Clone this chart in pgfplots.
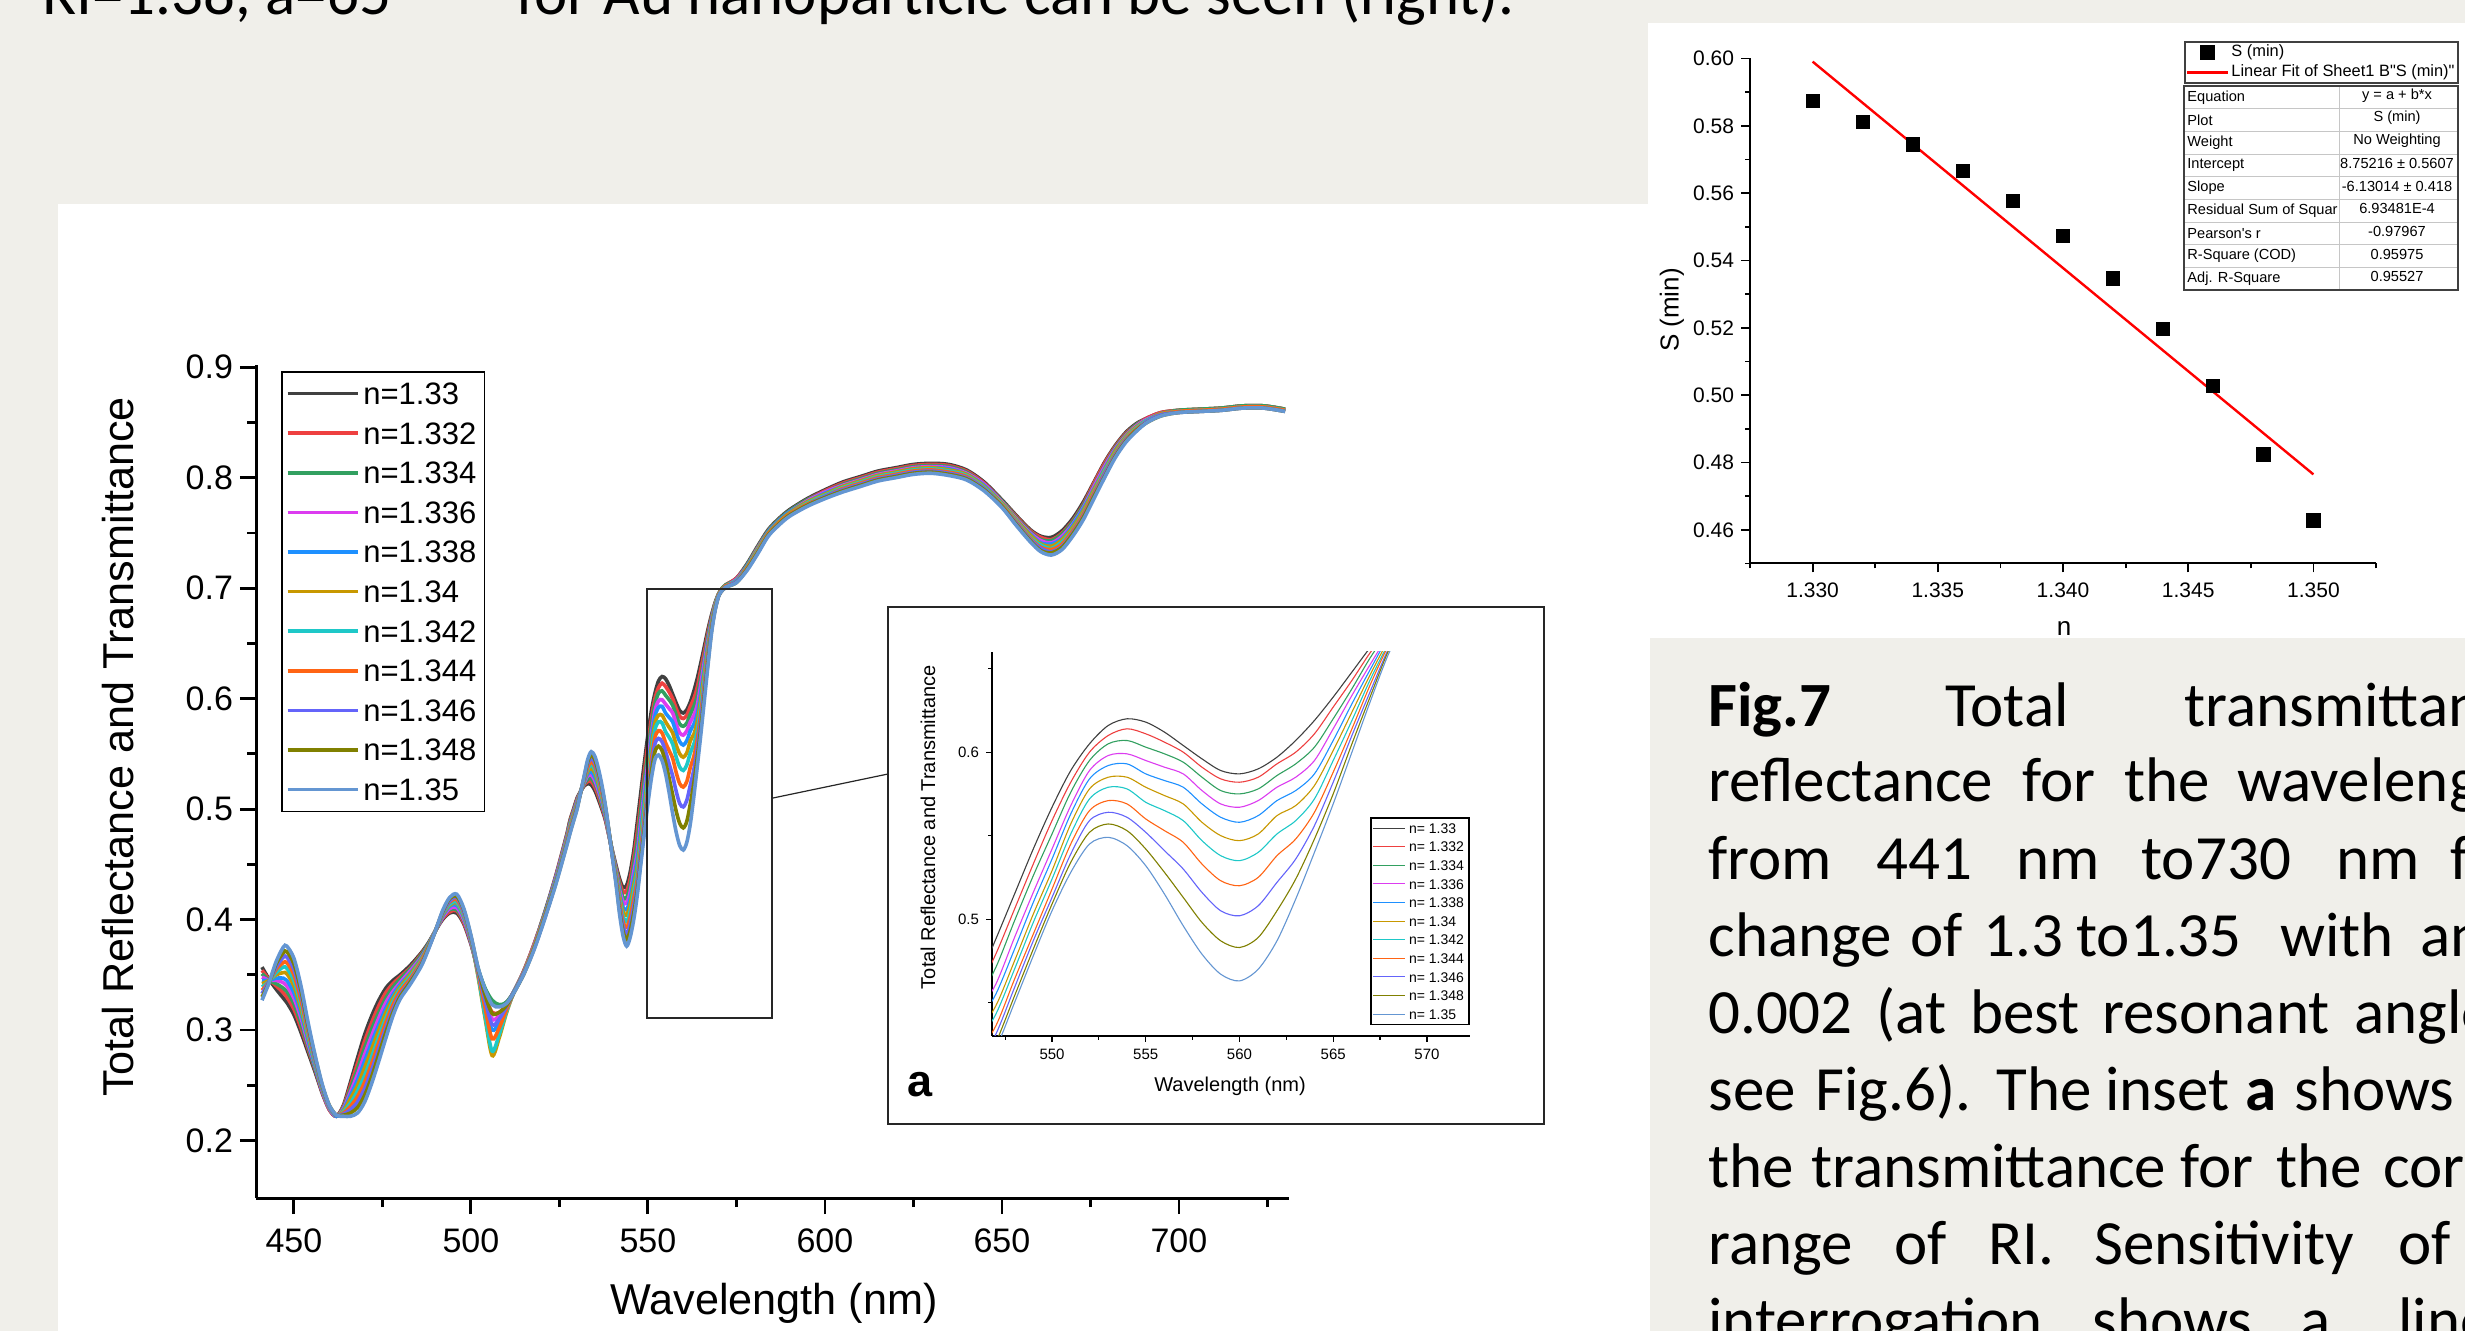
\documentclass[border=0pt]{standalone}
\usepackage{fontspec}
\setmainfont{Liberation Sans}
\newfontfamily\calibri{Carlito}
\usepackage{pgfplots}
\usepackage{pgfplotstable}
\pgfplotsset{compat=1.18}

\definecolor{bggrey}{RGB}{240,239,234}
\definecolor{c0}{RGB}{64,64,64}
\definecolor{c1}{RGB}{238,64,64}
\definecolor{c2}{RGB}{50,160,96}
\definecolor{c3}{RGB}{220,60,240}
\definecolor{c4}{RGB}{30,144,255}
\definecolor{c5}{RGB}{200,152,0}
\definecolor{c6}{RGB}{30,200,200}
\definecolor{c7}{RGB}{255,100,20}
\definecolor{c8}{RGB}{100,100,250}
\definecolor{c9}{RGB}{128,128,0}
\definecolor{c10}{RGB}{100,150,210}

\pgfplotsset{
  marklegend/.style={legend image code/.code={\draw[##1] plot coordinates {(10pt,0pt)}; \path (0pt,0pt) (20.5pt,0pt);}},
  fitlegend/.style={legend image code/.code={\draw[##1] (0pt,0pt) -- (20.5pt,0pt);}},
}

% total reflectance + transmittance, one column per refractive index
\pgfplotstableread{
L c0 c1 c2 c3 c4 c5 c6 c7 c8 c9 c10
441 0.357 0.354 0.351 0.348 0.345 0.342 0.339 0.336 0.333 0.330 0.327
443 0.346 0.346 0.345 0.345 0.345 0.345 0.344 0.344 0.344 0.343 0.343
445 0.337 0.340 0.342 0.345 0.347 0.350 0.352 0.355 0.357 0.360 0.362
447 0.329 0.334 0.338 0.343 0.347 0.352 0.357 0.361 0.366 0.370 0.375
448 0.325 0.330 0.335 0.340 0.345 0.351 0.356 0.361 0.366 0.371 0.376
450 0.314 0.319 0.324 0.329 0.334 0.340 0.345 0.350 0.355 0.360 0.365
452 0.298 0.302 0.306 0.311 0.315 0.319 0.323 0.327 0.332 0.336 0.340
454 0.280 0.283 0.285 0.288 0.291 0.294 0.296 0.299 0.302 0.304 0.307
456 0.262 0.264 0.265 0.267 0.268 0.270 0.271 0.273 0.274 0.276 0.277
458 0.243 0.244 0.245 0.245 0.246 0.247 0.248 0.249 0.249 0.250 0.251
460 0.228 0.228 0.229 0.229 0.230 0.230 0.230 0.231 0.231 0.232 0.232
462 0.222 0.222 0.222 0.222 0.222 0.223 0.223 0.223 0.223 0.223 0.223
464 0.232 0.231 0.230 0.229 0.228 0.227 0.226 0.225 0.224 0.223 0.222
466 0.253 0.250 0.247 0.244 0.241 0.238 0.234 0.231 0.228 0.225 0.222
468 0.275 0.270 0.265 0.260 0.255 0.250 0.245 0.240 0.235 0.230 0.225
470 0.296 0.290 0.284 0.278 0.272 0.266 0.259 0.253 0.247 0.241 0.235
472 0.313 0.307 0.301 0.295 0.289 0.283 0.276 0.270 0.264 0.258 0.252
474 0.327 0.322 0.316 0.311 0.305 0.300 0.294 0.289 0.283 0.278 0.272
476 0.338 0.334 0.329 0.325 0.320 0.316 0.311 0.307 0.302 0.298 0.293
478 0.345 0.342 0.339 0.335 0.332 0.329 0.326 0.323 0.319 0.316 0.313
480 0.350 0.348 0.346 0.343 0.341 0.339 0.337 0.335 0.332 0.330 0.328
483 0.359 0.357 0.356 0.354 0.352 0.351 0.349 0.347 0.345 0.344 0.342
486 0.370 0.369 0.368 0.366 0.365 0.364 0.363 0.362 0.360 0.359 0.358
488 0.379 0.378 0.378 0.377 0.377 0.376 0.375 0.375 0.374 0.374 0.373
490 0.390 0.390 0.390 0.390 0.390 0.390 0.390 0.390 0.390 0.390 0.390
492 0.400 0.401 0.402 0.402 0.403 0.404 0.405 0.406 0.406 0.407 0.408
494 0.406 0.407 0.409 0.410 0.412 0.413 0.414 0.416 0.417 0.419 0.420
496 0.406 0.408 0.409 0.411 0.413 0.415 0.416 0.418 0.420 0.421 0.423
498 0.396 0.397 0.399 0.400 0.402 0.403 0.404 0.406 0.407 0.409 0.410
500 0.378 0.379 0.380 0.380 0.381 0.382 0.383 0.384 0.384 0.385 0.386
502 0.355 0.354 0.356 0.353 0.352 0.349 0.350 0.352 0.354 0.356 0.357
504 0.337 0.332 0.338 0.329 0.323 0.311 0.313 0.320 0.327 0.332 0.337
506 0.326 0.316 0.327 0.310 0.300 0.277 0.281 0.292 0.305 0.315 0.323
508 0.322 0.316 0.323 0.313 0.307 0.293 0.296 0.302 0.310 0.316 0.321
510 0.325 0.323 0.325 0.322 0.320 0.315 0.316 0.318 0.321 0.322 0.324
512 0.334 0.334 0.334 0.334 0.334 0.333 0.333 0.333 0.333 0.333 0.333
515 0.354 0.354 0.353 0.353 0.353 0.353 0.352 0.352 0.352 0.351 0.351
518 0.379 0.379 0.378 0.378 0.377 0.377 0.376 0.376 0.375 0.375 0.374
521 0.408 0.407 0.407 0.406 0.406 0.405 0.404 0.404 0.403 0.403 0.402
524 0.440 0.439 0.438 0.438 0.437 0.436 0.435 0.434 0.434 0.433 0.432
527 0.476 0.475 0.474 0.473 0.472 0.471 0.470 0.469 0.468 0.467 0.466
528 0.490 0.489 0.488 0.486 0.485 0.484 0.483 0.482 0.480 0.479 0.478
529 0.500 0.499 0.498 0.497 0.496 0.495 0.493 0.492 0.491 0.490 0.489
530 0.510 0.509 0.508 0.507 0.506 0.505 0.504 0.503 0.502 0.501 0.500
531 0.516 0.516 0.516 0.516 0.516 0.516 0.515 0.515 0.515 0.515 0.515
532 0.521 0.522 0.523 0.524 0.525 0.526 0.526 0.527 0.528 0.529 0.530
533 0.523 0.525 0.527 0.530 0.532 0.534 0.536 0.538 0.541 0.543 0.545
534 0.522 0.525 0.528 0.531 0.534 0.537 0.540 0.543 0.546 0.549 0.552
535 0.517 0.520 0.523 0.526 0.529 0.533 0.536 0.539 0.542 0.545 0.548
536 0.509 0.512 0.515 0.517 0.520 0.523 0.526 0.529 0.531 0.534 0.537
537 0.500 0.502 0.504 0.507 0.509 0.511 0.513 0.515 0.518 0.520 0.522
538 0.490 0.491 0.493 0.494 0.495 0.497 0.498 0.500 0.501 0.502 0.503
539 0.476 0.476 0.477 0.477 0.478 0.478 0.478 0.479 0.479 0.480 0.480
540 0.462 0.461 0.461 0.460 0.460 0.459 0.458 0.458 0.457 0.457 0.456
541 0.449 0.447 0.446 0.444 0.442 0.441 0.439 0.437 0.435 0.434 0.432
542 0.437 0.434 0.431 0.427 0.424 0.421 0.418 0.415 0.411 0.408 0.405
543 0.429 0.425 0.420 0.416 0.411 0.407 0.403 0.398 0.394 0.389 0.385
544 0.431 0.426 0.420 0.415 0.409 0.404 0.398 0.393 0.387 0.382 0.376
545 0.443 0.437 0.431 0.425 0.419 0.414 0.408 0.402 0.396 0.390 0.384
546 0.462 0.456 0.450 0.443 0.437 0.431 0.425 0.419 0.412 0.406 0.400
547 0.488 0.479 0.471 0.461 0.455 0.448 0.443 0.436 0.431 0.426 0.422
548 0.515 0.506 0.499 0.489 0.482 0.475 0.470 0.464 0.459 0.454 0.450
549 0.542 0.533 0.526 0.516 0.510 0.503 0.498 0.491 0.487 0.482 0.478
550 0.567 0.559 0.551 0.542 0.536 0.529 0.524 0.518 0.513 0.509 0.505
551 0.589 0.582 0.576 0.568 0.563 0.557 0.551 0.545 0.539 0.534 0.528
552 0.605 0.600 0.595 0.589 0.584 0.578 0.572 0.565 0.559 0.552 0.545
553 0.616 0.610 0.605 0.598 0.592 0.585 0.579 0.571 0.564 0.557 0.549
554 0.620 0.614 0.607 0.599 0.593 0.585 0.578 0.569 0.561 0.553 0.544
555 0.618 0.611 0.603 0.595 0.587 0.579 0.570 0.560 0.552 0.542 0.532
556 0.612 0.606 0.599 0.591 0.583 0.574 0.565 0.553 0.541 0.528 0.515
557 0.604 0.600 0.594 0.587 0.579 0.569 0.559 0.546 0.530 0.513 0.496
558 0.596 0.591 0.585 0.577 0.569 0.558 0.547 0.533 0.516 0.498 0.479
559 0.589 0.584 0.577 0.569 0.561 0.550 0.538 0.523 0.505 0.487 0.467
560 0.587 0.582 0.575 0.567 0.558 0.547 0.535 0.520 0.502 0.483 0.463
561 0.590 0.585 0.578 0.571 0.562 0.551 0.540 0.525 0.508 0.489 0.470
562 0.597 0.593 0.586 0.579 0.571 0.562 0.551 0.538 0.522 0.505 0.487
563 0.607 0.600 0.593 0.585 0.577 0.568 0.559 0.548 0.536 0.524 0.512
564 0.619 0.611 0.603 0.595 0.587 0.580 0.572 0.564 0.556 0.548 0.540
565 0.633 0.627 0.620 0.614 0.607 0.601 0.595 0.588 0.582 0.575 0.569
566 0.648 0.643 0.638 0.634 0.629 0.624 0.619 0.614 0.610 0.605 0.600
567 0.663 0.660 0.657 0.653 0.650 0.647 0.644 0.641 0.637 0.634 0.631
568 0.676 0.674 0.673 0.671 0.670 0.668 0.666 0.665 0.663 0.662 0.660
569 0.687 0.686 0.686 0.685 0.684 0.684 0.683 0.682 0.681 0.681 0.680
570 0.695 0.695 0.695 0.694 0.694 0.694 0.694 0.694 0.693 0.693 0.693
571 0.700 0.700 0.700 0.699 0.699 0.699 0.699 0.699 0.698 0.698 0.698
572 0.703 0.703 0.703 0.702 0.702 0.702 0.702 0.702 0.701 0.701 0.701
575 0.709 0.709 0.708 0.708 0.707 0.707 0.707 0.706 0.706 0.705 0.705
578 0.722 0.721 0.721 0.720 0.720 0.719 0.718 0.718 0.717 0.717 0.716
581 0.738 0.737 0.737 0.736 0.735 0.735 0.734 0.733 0.732 0.732 0.731
584 0.753 0.752 0.752 0.751 0.751 0.750 0.749 0.749 0.748 0.748 0.747
587 0.763 0.762 0.762 0.761 0.761 0.760 0.759 0.759 0.758 0.758 0.757
590 0.771 0.770 0.770 0.769 0.769 0.768 0.767 0.767 0.766 0.766 0.765
595 0.781 0.780 0.780 0.779 0.778 0.778 0.777 0.776 0.775 0.775 0.774
600 0.789 0.788 0.787 0.787 0.786 0.785 0.784 0.783 0.783 0.782 0.781
605 0.796 0.795 0.794 0.793 0.792 0.792 0.791 0.790 0.789 0.788 0.787
610 0.801 0.800 0.799 0.798 0.797 0.797 0.796 0.795 0.794 0.793 0.792
615 0.806 0.805 0.804 0.803 0.802 0.802 0.801 0.800 0.799 0.798 0.797
620 0.809 0.808 0.807 0.806 0.805 0.805 0.804 0.803 0.802 0.801 0.800
625 0.812 0.811 0.810 0.809 0.808 0.808 0.807 0.806 0.805 0.804 0.803
630 0.813 0.812 0.811 0.810 0.809 0.809 0.808 0.807 0.806 0.805 0.804
635 0.812 0.811 0.810 0.809 0.808 0.807 0.806 0.805 0.804 0.803 0.802
640 0.807 0.806 0.805 0.804 0.803 0.803 0.802 0.801 0.800 0.799 0.798
645 0.796 0.795 0.794 0.794 0.793 0.792 0.791 0.790 0.790 0.789 0.788
650 0.780 0.779 0.779 0.778 0.777 0.777 0.776 0.775 0.774 0.774 0.773
654 0.766 0.765 0.764 0.763 0.762 0.762 0.761 0.760 0.759 0.758 0.757
658 0.753 0.752 0.751 0.750 0.749 0.748 0.746 0.745 0.744 0.743 0.742
661 0.747 0.746 0.744 0.743 0.741 0.740 0.739 0.737 0.736 0.734 0.733
664 0.746 0.744 0.743 0.741 0.740 0.738 0.736 0.735 0.733 0.732 0.730
667 0.752 0.750 0.749 0.747 0.745 0.744 0.742 0.740 0.738 0.737 0.735
670 0.763 0.761 0.760 0.758 0.757 0.755 0.753 0.752 0.750 0.749 0.747
673 0.778 0.776 0.775 0.773 0.772 0.770 0.768 0.767 0.765 0.764 0.762
676 0.796 0.795 0.793 0.792 0.790 0.789 0.787 0.786 0.784 0.783 0.781
679 0.814 0.813 0.811 0.810 0.808 0.807 0.806 0.804 0.803 0.801 0.800
682 0.829 0.828 0.827 0.826 0.825 0.824 0.822 0.821 0.820 0.819 0.818
685 0.841 0.840 0.839 0.838 0.837 0.837 0.836 0.835 0.834 0.833 0.832
688 0.849 0.848 0.848 0.847 0.846 0.846 0.845 0.844 0.843 0.843 0.842
691 0.854 0.854 0.853 0.853 0.852 0.852 0.852 0.851 0.851 0.850 0.850
695 0.859 0.859 0.858 0.858 0.858 0.858 0.857 0.857 0.857 0.856 0.856
700 0.861 0.861 0.861 0.860 0.860 0.860 0.860 0.860 0.859 0.859 0.859
706 0.862 0.862 0.862 0.861 0.861 0.861 0.861 0.861 0.860 0.860 0.860
712 0.863 0.863 0.863 0.862 0.862 0.862 0.862 0.862 0.861 0.861 0.861
718 0.865 0.865 0.865 0.864 0.864 0.864 0.864 0.864 0.863 0.863 0.863
724 0.865 0.865 0.865 0.864 0.864 0.864 0.864 0.864 0.863 0.863 0.863
730 0.862 0.862 0.862 0.861 0.861 0.861 0.861 0.861 0.860 0.860 0.860
}\spectra

% S(min) against refractive index
\pgfplotstableread{
n S
1.330 0.5874
1.332 0.5811
1.334 0.5745
1.336 0.5666
1.338 0.5576
1.340 0.5472
1.342 0.5347
1.344 0.5198
1.346 0.5027
1.348 0.4824
1.350 0.4628
}\smin

\begin{document}
\begin{tikzpicture}
\useasboundingbox (0pt,0pt) rectangle (1232.5pt,-665.5pt);
\clip (0pt,0pt) rectangle (1232.5pt,-665.5pt);

% slide background, text (units: pixels of the reference)
\begin{scope}[x=0.5pt,y=-0.5pt]
  \fill[bggrey] (0,0) rectangle (2465,1331);
  \fill[white] (58,204) rectangle (1650,1331);
  \fill[white] (1648,23) rectangle (2465,638);
  \begin{scope}[every node/.style={anchor=base west, inner sep=0pt, font=\calibri\fontsize{31.5}{38}\selectfont}]
    \node at (42,15) {RI=1.38, a=65};
    \node at (516,15) {for Au nanoparticle can be seen (right).};
    \node at (1708,727) {\bfseries Fig.7};
    \node at (1945,727) {Total};
    \node at (2184,727) {transmittance};
    \node at (1708,802) {reflectance};
    \node at (2022,802) {for};
    \node at (2124,802) {the};
    \node at (2237,802) {wavelength};
    \node at (1708,879) {from};
    \node at (1876,879) {441};
    \node at (2016,879) {nm};
    \node at (2141,879) {to730};
    \node at (2336,879) {nm};
    \node at (2450,879) {for};
    \node at (1708,956) {change};
    \node at (1910,956) {of};
    \node at (1983,956) {1.3};
    \node at (2076,956) {to1.35};
    \node at (2280,956) {with};
    \node at (2420,956) {an};
    \node at (1708,1033) {0.002};
    \node at (1876,1033) {(at};
    \node at (1970,1033) {best};
    \node at (2102,1033) {resonant};
    \node at (2354,1033) {angle};
    \node at (1708,1110) {see};
    \node at (1815,1110) {Fig.6).};
    \node at (1996,1110) {The};
    \node at (2105,1110) {inset};
    \node at (2245,1110) {\bfseries a};
    \node at (2294,1110) {shows};
    \node at (1708,1187) {the};
    \node at (1811,1187) {transmittance};
    \node at (2180,1187) {for};
    \node at (2276,1187) {the};
    \node at (2383,1187) {corresponding};
    \node at (1708,1264) {range};
    \node at (1894,1264) {of};
    \node at (1988,1264) {RI.};
    \node at (2094,1264) {Sensitivity};
    \node at (2398,1264) {of};
    \node at (1708,1341) {interrogation};
    \node at (2092,1341) {shows};
    \node at (2300,1341) {a};
    \node at (2398,1341) {linear};
  \end{scope}
\end{scope}

% main spectra
\begin{axis}[
  at={(128pt,-599pt)}, anchor=south west,
  scale only axis, width=516.5pt, height=416.5pt,
  xmin=439.3, xmax=731.1, ymin=0.148, ymax=0.902,
  axis x line=bottom, axis y line=left,
  x axis line style={-}, y axis line style={-},
  axis line style={line width=1.5pt},
  tick align=outside, major tick length=8pt, minor tick length=4.5pt,
  tick style={black, line width=1.4pt},
  xtick={450,500,550,600,650,700}, xticklabels={450,500,550,600,650,700},
  minor xtick={475,525,575,625,675,725},
  ytick={0.2,0.3,0.4,0.5,0.6,0.7,0.8,0.9},
  yticklabels={0.2,0.3,0.4,0.5,0.6,0.7,0.8,0.9},
  minor ytick={0.25,0.35,0.45,0.55,0.65,0.75,0.85},
  tick label style={font=\fontsize{17}{19}\selectfont},
  xticklabel style={yshift=-4pt},
  xlabel={Wavelength (nm)}, ylabel={Total Reflectance and Transmittance},
  label style={font=\fontsize{21.6}{25}\selectfont},
  xlabel style={at={(axis description cs:0.5015,-0.1265)}, anchor=center},
  ylabel style={at={(axis description cs:-0.1336,0.5414)}, anchor=center},
  legend style={at={(0.0242,0.9928)}, anchor=north west, draw=black,
    line width=0.8pt, fill=white, font=\fontsize{15.5}{17}\selectfont,
    inner xsep=2pt, inner ysep=1pt, row sep=0pt,
    nodes={inner xsep=2pt, inner ysep=4.45pt, text height=10.9pt, text depth=0pt}},
  legend cell align=left,
  legend image code/.code={\draw[#1] (0pt,0pt) -- (35pt,0pt);},
  every axis plot/.append style={line width=1.8pt, smooth},
]
\addplot[c0] table[x=L, y=c0] {\spectra}; \addlegendentry{n=1.33}
\addplot[c1] table[x=L, y=c1] {\spectra}; \addlegendentry{n=1.332}
\addplot[c2] table[x=L, y=c2] {\spectra}; \addlegendentry{n=1.334}
\addplot[c3] table[x=L, y=c3] {\spectra}; \addlegendentry{n=1.336}
\addplot[c4] table[x=L, y=c4] {\spectra}; \addlegendentry{n=1.338}
\addplot[c5] table[x=L, y=c5] {\spectra}; \addlegendentry{n=1.34}
\addplot[c6] table[x=L, y=c6] {\spectra}; \addlegendentry{n=1.342}
\addplot[c7] table[x=L, y=c7] {\spectra}; \addlegendentry{n=1.344}
\addplot[c8] table[x=L, y=c8] {\spectra}; \addlegendentry{n=1.346}
\addplot[c9] table[x=L, y=c9] {\spectra}; \addlegendentry{n=1.348}
\addplot[c10] table[x=L, y=c10] {\spectra}; \addlegendentry{n=1.35}
\draw[black!85, line width=1pt] (axis cs:549.8,0.311) rectangle (axis cs:585.1,0.699);
\end{axis}

\begin{scope}[x=0.5pt,y=-0.5pt]
  \draw[black!85, line width=0.6pt] (773,798) -- (888,774);
  \filldraw[fill=white, draw=black!85, line width=1pt] (888,607) rectangle (1544,1124);
  \node[anchor=base west, inner sep=0pt, font=\bfseries\fontsize{22.5}{24}\selectfont] at (907,1096) {a};
\end{scope}

% inset a
\begin{axis}[
  at={(496pt,-518pt)}, anchor=south west,
  scale only axis, width=239pt, height=192pt,
  xmin=546.8, xmax=572.3, ymin=0.43, ymax=0.66,
  axis x line=bottom, axis y line=left,
  x axis line style={-}, y axis line style={-},
  axis line style={line width=0.7pt},
  tick align=outside, major tick length=3pt, minor tick length=2pt,
  tick style={black, line width=0.6pt},
  xtick={550,555,560,565,570}, xticklabels={550,555,560,565,570},
  minor xtick={547.5,552.5,557.5,562.5,567.5},
  ytick={0.5,0.6}, yticklabels={0.5,0.6}, minor ytick={0.45,0.55,0.65},
  tick label style={font=\fontsize{7.5}{9}\selectfont},
  xlabel={Wavelength (nm)}, ylabel={Total Reflectance and Transmittance},
  label style={font=\fontsize{10}{12}\selectfont},
  xlabel style={at={(axis description cs:0.498,-0.130)}, anchor=center},
  ylabel style={at={(axis description cs:-0.134,0.544)}, anchor=center},
  legend style={at={(0.791,0.5703)}, anchor=north west, draw=black,
    line width=0.8pt, fill=white, font=\fontsize{7}{8}\selectfont,
    inner xsep=1pt, inner ysep=0.5pt, row sep=0pt,
    nodes={inner xsep=1.5pt, inner ysep=2.1pt, text height=5.1pt, text depth=0pt}},
  legend cell align=left,
  legend image code/.code={\draw[#1] (0pt,0pt) -- (16pt,0pt);},
  every axis plot/.append style={line width=0.55pt, smooth},
]
\addplot[c0] table[x=L, y=c0] {\spectra}; \addlegendentry{n= 1.33}
\addplot[c1] table[x=L, y=c1] {\spectra}; \addlegendentry{n= 1.332}
\addplot[c2] table[x=L, y=c2] {\spectra}; \addlegendentry{n= 1.334}
\addplot[c3] table[x=L, y=c3] {\spectra}; \addlegendentry{n= 1.336}
\addplot[c4] table[x=L, y=c4] {\spectra}; \addlegendentry{n= 1.338}
\addplot[c5] table[x=L, y=c5] {\spectra}; \addlegendentry{n= 1.34}
\addplot[c6] table[x=L, y=c6] {\spectra}; \addlegendentry{n= 1.342}
\addplot[c7] table[x=L, y=c7] {\spectra}; \addlegendentry{n= 1.344}
\addplot[c8] table[x=L, y=c8] {\spectra}; \addlegendentry{n= 1.346}
\addplot[c9] table[x=L, y=c9] {\spectra}; \addlegendentry{n= 1.348}
\addplot[c10] table[x=L, y=c10] {\spectra}; \addlegendentry{n= 1.35}
\end{axis}

% S(min) with linear fit
\begin{axis}[
  at={(875pt,-281.75pt)}, anchor=south west,
  scale only axis, width=313pt, height=252.5pt,
  xmin=1.3275, xmax=1.3525, ymin=0.45, ymax=0.60,
  axis x line=bottom, axis y line=left,
  x axis line style={-}, y axis line style={-},
  axis line style={line width=1pt},
  tick align=outside, major tick length=4.5pt, minor tick length=2.5pt,
  tick style={black, line width=0.9pt},
  xtick={1.330,1.335,1.340,1.345,1.350},
  xticklabels={1.330,1.335,1.340,1.345,1.350},
  minor xtick={1.3275,1.3325,1.3375,1.3425,1.3475,1.3525},
  ytick={0.46,0.48,0.50,0.52,0.54,0.56,0.58,0.60},
  yticklabels={0.46,0.48,0.50,0.52,0.54,0.56,0.58,0.60},
  minor ytick={0.45,0.47,0.49,0.51,0.53,0.55,0.57,0.59},
  tick label style={font=\fontsize{10.5}{12}\selectfont},
  xticklabel style={yshift=-1.5pt},
  xlabel={n}, ylabel={S (min)},
  label style={font=\fontsize{13}{15}\selectfont},
  xlabel style={at={(axis description cs:0.5016,-0.129)}, anchor=center},
  ylabel style={at={(axis description cs:-0.1246,0.502)}, anchor=center},
  legend style={at={(0.6933,1.0347)}, anchor=north west, draw=black!75,
    line width=1pt, fill=white, font=\fontsize{8.2}{9}\selectfont,
    inner xsep=0.5pt, inner ysep=0pt, row sep=0pt,
    nodes={inner xsep=1pt, inner ysep=1.25pt, text height=6pt, text depth=1.7pt}},
  legend cell align=left,
]
\addplot[only marks, mark=square*, mark size=3.3pt, black, marklegend]
  table[x=n, y=S] {\smin};
\addlegendentry{S (min)}
\addplot[red, line width=1.2pt, fitlegend]
  coordinates {(1.330,0.59907) (1.350,0.47647)};
\addlegendentry{Linear Fit of Sheet1 B\textquotedbl S (min)\textquotedbl}
\end{axis}

% fit parameter table
\begin{scope}[x=0.5pt,y=-0.5pt]
  \fill[white] (2184,86) rectangle (2458,290);
  \foreach \k in {1,...,8} \draw[gray!45, line width=0.5pt] (2184,{86+22.67*\k}) -- (2458,{86+22.67*\k});
  \draw[gray!45, line width=0.5pt] (2339,86) -- (2339,290);
  \draw[black!75, line width=1pt] (2184,86) rectangle (2458,290);
  \foreach \k/\a/\b in {0/{Equation}/{y = a + b*x}, 1/{Plot}/{S (min)}, 2/{Weight}/{No Weighting},
      3/{Intercept}/{8.75216 ± 0.5607}, 4/{Slope}/{-6.13014 ± 0.418},
      5/{Residual Sum of Squar}/{6.93481E-4}, 6/{Pearson\textquotesingle s r}/{-0.97967},
      7/{R-Square (COD)}/{0.95975}, 8/{Adj. R-Square}/{0.95527}} {
    \node[anchor=west, inner sep=0pt, font=\fontsize{7.3}{8}\selectfont] at (2187,{86+22.67*(\k+0.5)}) {\a};
    \node[anchor=center, inner sep=0pt, font=\fontsize{7.3}{8}\selectfont] at (2397,{84+22.67*(\k+0.5)}) {\b};
  }
\end{scope}
\end{tikzpicture}
\end{document}
